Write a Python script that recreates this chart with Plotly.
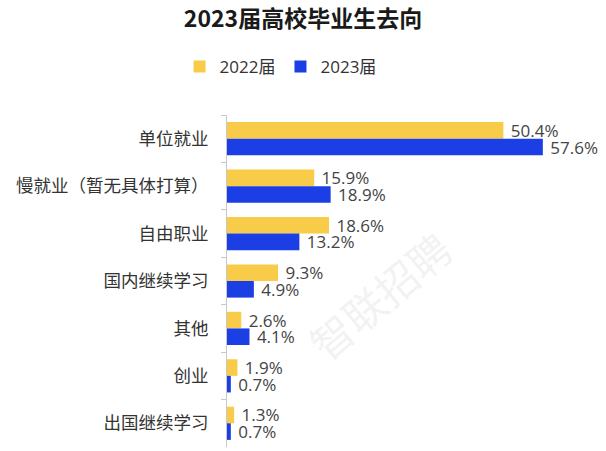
import plotly.graph_objects as go

categories = ["单位就业", "慢就业（暂无具体打算）", "自由职业", "国内继续学习", "其他", "创业", "出国继续学习"]
v2022 = [50.4, 15.9, 18.6, 9.3, 2.6, 1.9, 1.3]
v2023 = [57.6, 18.9, 13.2, 4.9, 4.1, 0.7, 0.7]
series_names = ["2022届", "2023届"]
title_text = "2023届高校毕业生去向"

font_family = "Noto Sans CJK SC, Microsoft YaHei, sans-serif"
label_family = "Open Sans, Noto Sans CJK SC, sans-serif"

fig = go.Figure()
for vals, name, color in [(v2022, series_names[0], "#F8CC48"), (v2023, series_names[1], "#1B3FE4")]:
    fig.add_trace(go.Bar(
        y=categories, x=vals, name=name, orientation="h",
        marker=dict(color=color, line=dict(width=0)),
        text=[f" {v}%" for v in vals], textposition="outside",
        constraintext="none",
        textfont=dict(size=17, color="#444444", family=label_family),
        cliponaxis=False,
    ))

fig.update_layout(
    width=606, height=451,
    margin=dict(l=227, r=16, t=115, b=4),
    paper_bgcolor="white", plot_bgcolor="white",
    barmode="group", bargap=0.3, bargroupgap=0,
    font=dict(family=font_family, size=17, color="#333333"),
    title=dict(text=f"<b>{title_text}</b>", x=0.5, xanchor="center",
               yref="container", y=1 - 19 / 451, yanchor="middle",
               font=dict(size=23, color="#1a1a1a", family=font_family)),
    legend=dict(orientation="h", xref="container", x=0.463, xanchor="center",
                yref="container", y=1 - 67 / 451, yanchor="middle",
                font=dict(size=17, color="#333333", family=label_family),
                traceorder="normal", itemwidth=30),
    xaxis=dict(range=[0, 66.2], visible=False, showgrid=False, zeroline=False),
    yaxis=dict(autorange="reversed", showline=True, linecolor="#c8c8c8", linewidth=1,
               ticks="outside", tickson="boundaries", ticklen=5, tickcolor="#c8c8c8",
               showgrid=False, ticklabelstandoff=14,
               tickfont=dict(size=17.5, color="#333333", family=font_family)),
)

fig.add_annotation(
    text="智联招聘", x=0.42, y=0.46, xref="paper", yref="paper",
    showarrow=False, textangle=-40,
    font=dict(size=42, color="rgba(200,200,200,0.22)", family=font_family),
)

fig.write_html("out.html")
